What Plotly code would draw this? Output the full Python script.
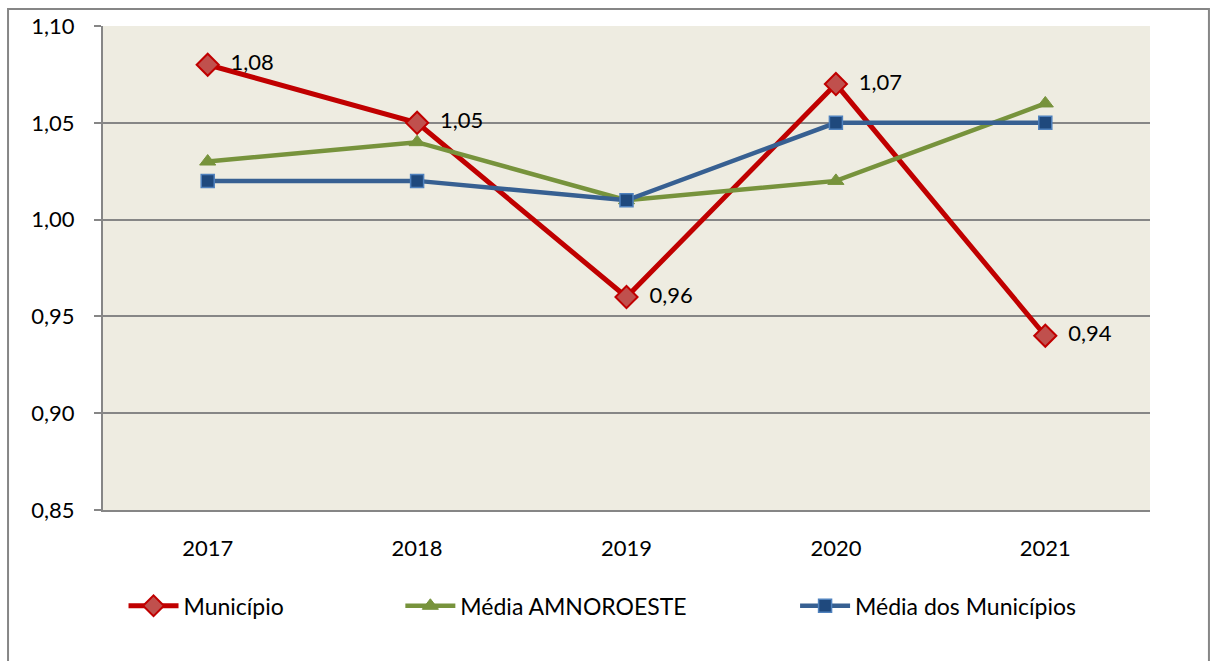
import plotly.graph_objects as go

years = ["2017", "2018", "2019", "2020", "2021"]
municipio = [1.08, 1.05, 0.96, 1.07, 0.94]
media_amnoroeste = [1.03, 1.04, 1.01, 1.02, 1.06]
media_municipios = [1.02, 1.02, 1.01, 1.05, 1.05]
labels_municipio = ["1,08", "1,05", "0,96", "1,07", "0,94"]
y_ticks = [0.85, 0.90, 0.95, 1.00, 1.05, 1.10]

FONT = "Lato, Open Sans, sans-serif"
FS = 22

fig = go.Figure()
fig.add_trace(go.Scatter(
    x=years, y=municipio, name="Município", mode="lines+markers+text",
    text=["  " + t for t in labels_municipio], textposition="middle right",
    textfont=dict(size=FS, color="black", family=FONT),
    line=dict(color="#C00000", width=5),
    marker=dict(symbol="diamond", size=17, color="#C0504D", line=dict(color="#C00000", width=2)),
    legend="legend",
))
fig.add_trace(go.Scatter(
    x=years, y=media_amnoroeste, name="Média AMNOROESTE", mode="lines+markers",
    line=dict(color="#77933C", width=4.5),
    marker=dict(symbol="triangle-up", size=14, color="#77933C", line=dict(color="#77933C", width=1)),
    legend="legend2",
))
fig.add_trace(go.Scatter(
    x=years, y=media_municipios, name="Média dos Municípios", mode="lines+markers",
    line=dict(color="#376092", width=4.5),
    marker=dict(symbol="square", size=13, color="#1F497D", line=dict(color="#4F81BD", width=1.5)),
    legend="legend3",
))

leg_common = dict(orientation="h", yref="paper", y=-0.198, yanchor="middle",
                  xanchor="left", bgcolor="rgba(0,0,0,0)",
                  font=dict(size=23, color="black", family=FONT),
                  itemwidth=50)

fig.update_layout(
    width=1216, height=661,
    margin=dict(l=103, r=66, t=17, b=151),
    paper_bgcolor="white",
    plot_bgcolor="#EEECE1",
    separators=",.",
    font=dict(family=FONT, size=FS, color="black"),
    showlegend=True,
    legend=dict(x=0.0196, **leg_common),
    legend2=dict(x=0.284, **leg_common),
    legend3=dict(x=0.661, **leg_common),
    xaxis=dict(
        type="category", range=[-0.5, 4.5], showgrid=False,
        showline=True, linecolor="#868686", linewidth=2,
        ticks="", tickfont=dict(size=FS, family=FONT),
        ticklabelstandoff=18, zeroline=False,
    ),
    yaxis=dict(
        range=[0.85, 1.10], tickvals=y_ticks, tickformat=".2f",
        showgrid=True, gridcolor="#868686", gridwidth=2,
        showline=True, linecolor="#868686", linewidth=2,
        ticks="outside", ticklen=7, tickcolor="#868686", tickwidth=2,
        tickfont=dict(size=FS, family=FONT), ticklabelstandoff=15,
        zeroline=False,
    ),
    shapes=[dict(type="rect", xref="paper", yref="paper",
                 x0=-0.0907, x1=1.0563, y0=-0.34, y1=1.035,
                 line=dict(color="#868686", width=2), fillcolor="rgba(0,0,0,0)", layer="below")],
)

fig.write_html("out.html", config={"displayModeBar": False},
               post_script="document.body.style.margin='0';")
